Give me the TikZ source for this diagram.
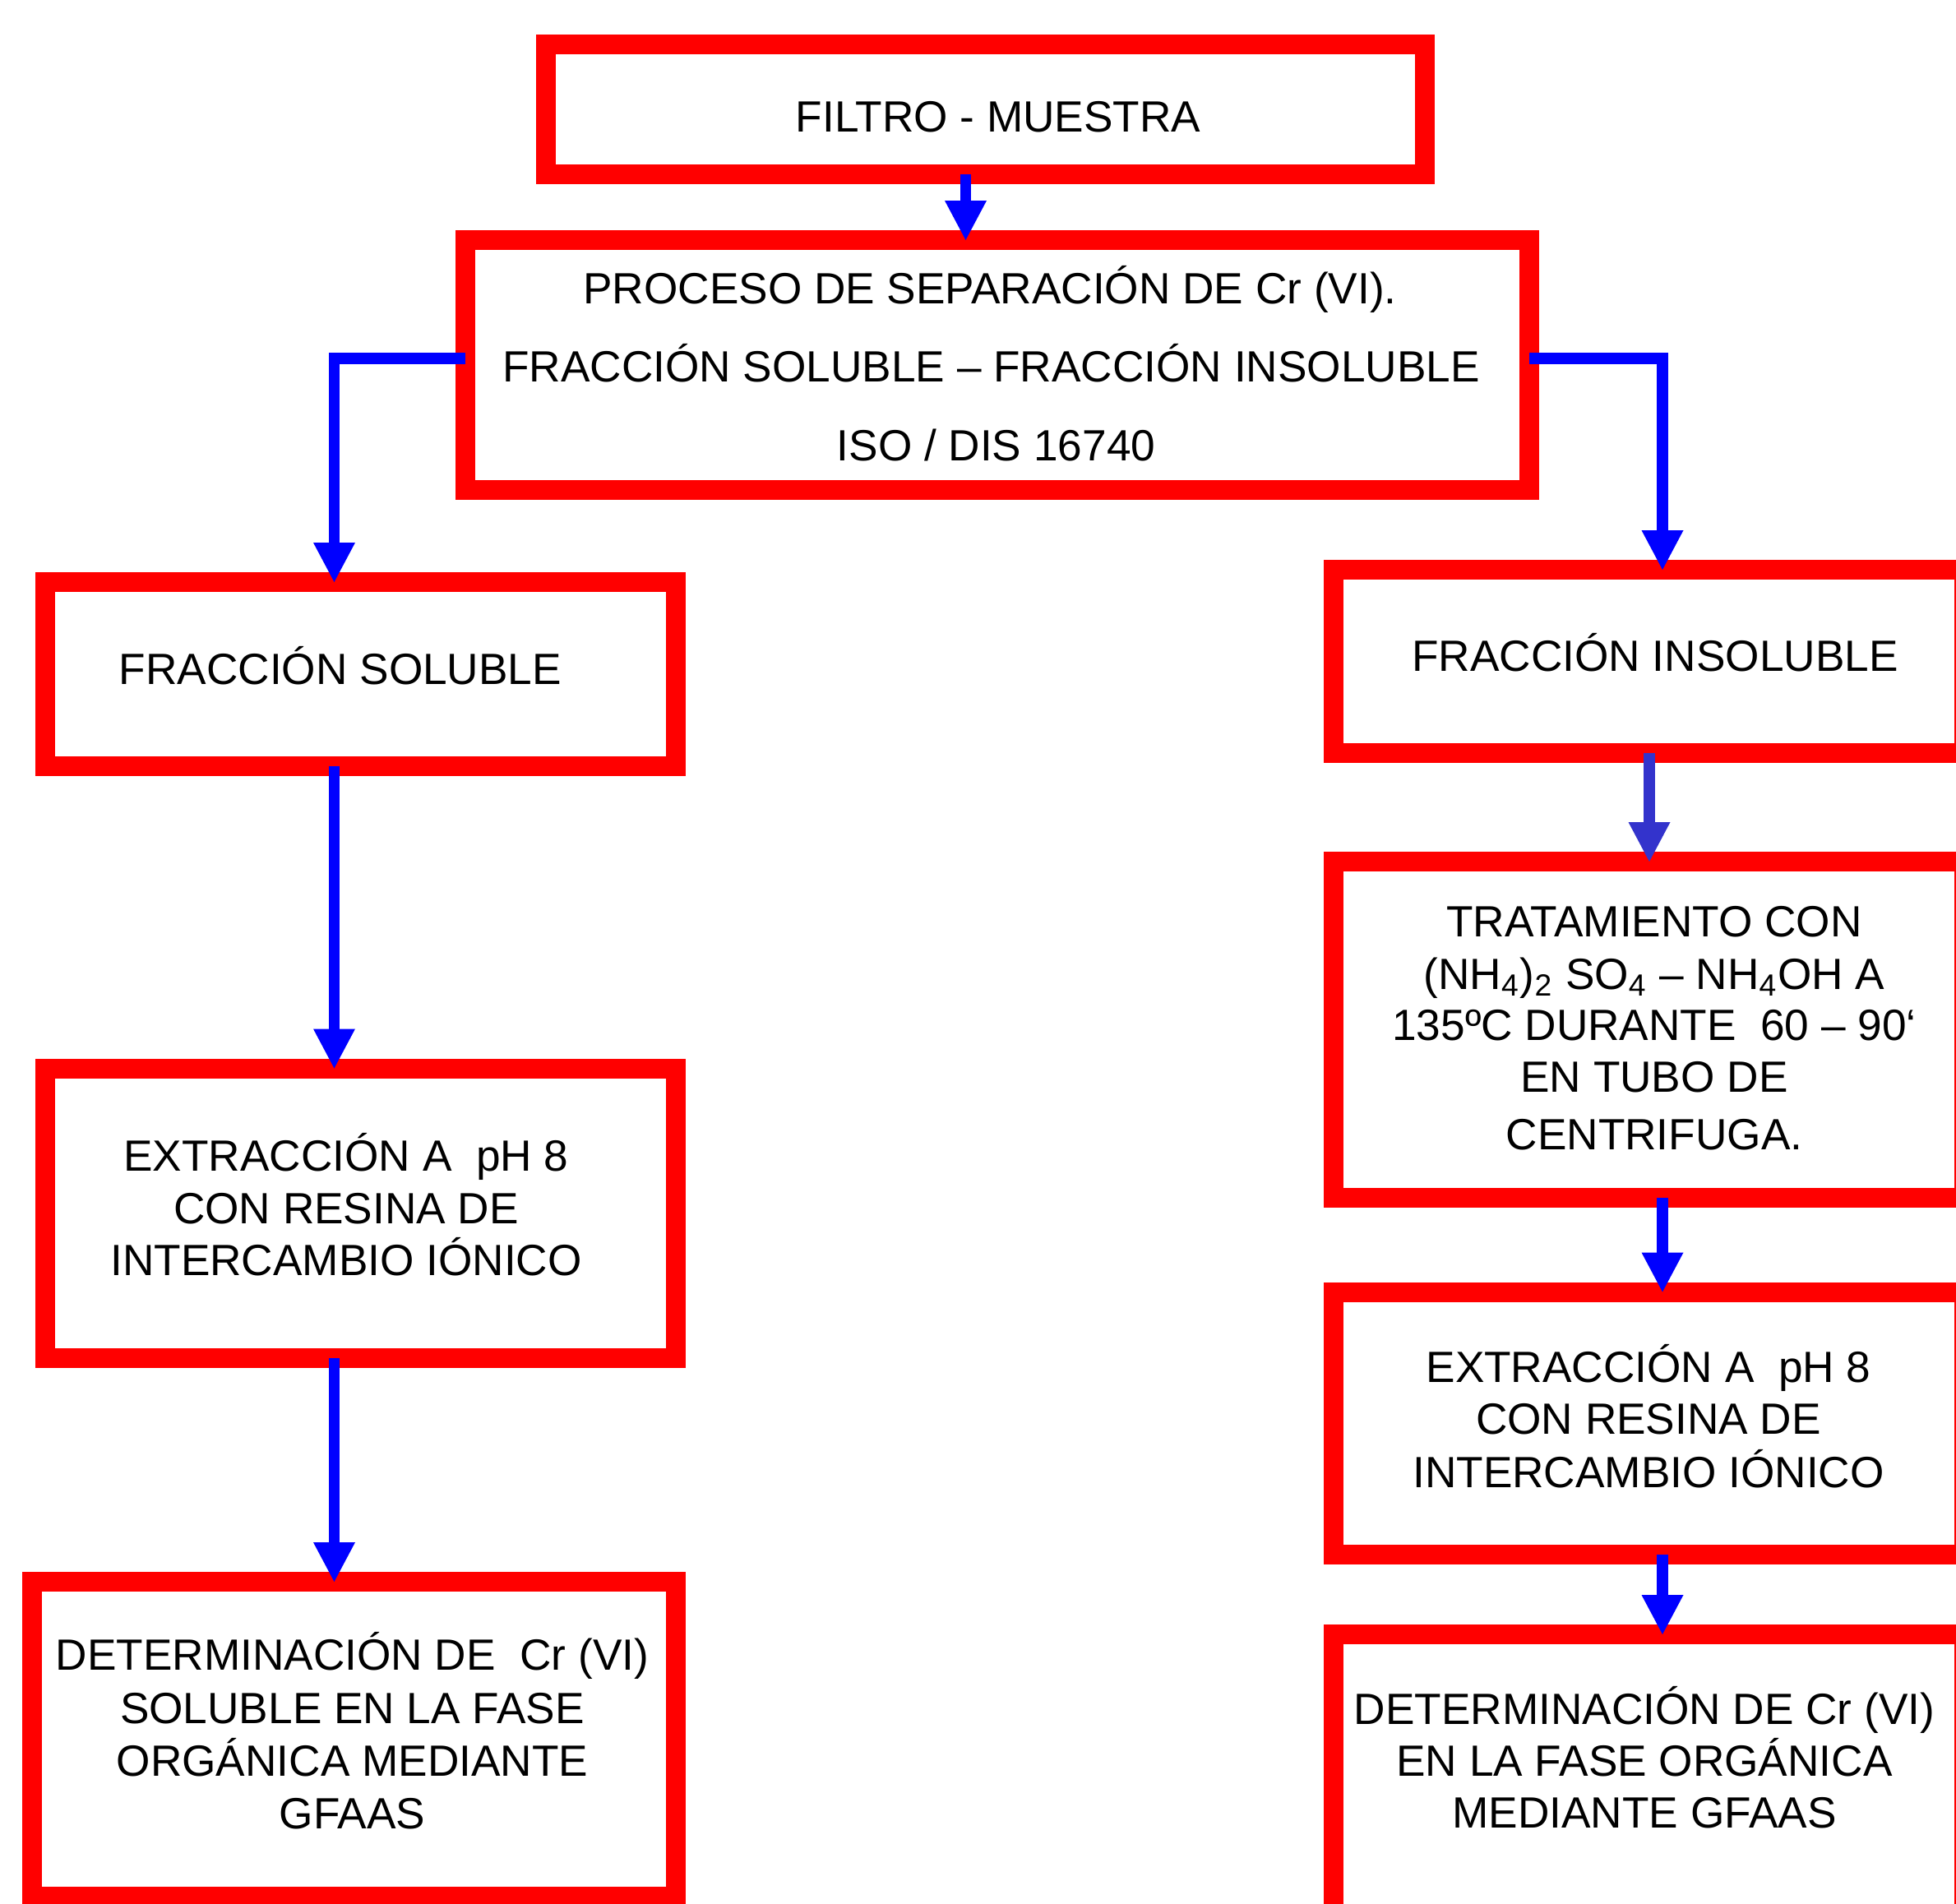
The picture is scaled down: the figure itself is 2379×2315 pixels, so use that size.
\documentclass[tikz,border=0pt]{standalone}
\usepackage{fontspec}
\setmainfont{Liberation Sans}
\usetikzlibrary{arrows.meta,fit}
\definecolor{boxred}{HTML}{FF0000}
\definecolor{arrblue}{HTML}{0000FF}
\definecolor{arrpurple}{HTML}{3333CC}
\tikzset{
  box/.style={draw=boxred, line width=6pt, rectangle, inner sep=0pt, outer sep=0pt, fill=none},
  txt/.style={anchor=base, inner sep=0pt, outer sep=0pt, font=\fontsize{13.3pt}{16pt}\selectfont, text=black},
  arr/.style={draw=arrblue, line width=3.3pt, -{Triangle[length=12pt,width=12.75pt,line width=0pt]}},
  conn/.style={arr, line width=3.4pt},
}
\begin{document}
\begin{tikzpicture}[x=0.25pt,y=-0.25pt]
\useasboundingbox (0,0) rectangle (2379,2315);
\fill[white] (0,0) rectangle (2379,2315);
\clip (0,0) rectangle (2379,2315);
% x positions of the connectors
\coordinate (a1x) at (1174.5,0);
\coordinate (xl) at (406.5,0);
\coordinate (xr) at (2022,0);
\coordinate (x45) at (2006,0);
\coordinate (yb) at (0,436);
% boxes
\node[box, fit={(664,54) (1733,212)}] (b1) {};
\node[box, fit={(566,292) (1860,595.5)}] (b2) {};
\node[box, fit={(55,708) (822,932)}] (b3) {};
\node[box, fit={(1622,693) (2389,916)}] (b4) {};
\node[box, fit={(1622,1048) (2389,1457)}] (b5) {};
\node[box, fit={(1622,1571.5) (2389,1891)}] (b6) {};
\node[box, fit={(1622,1988) (2389,2340)}] (b7) {};
\node[box, fit={(55,1299.5) (822,1652)}] (b8) {};
\node[box, fit={(39,1924) (822,2307)}] (b9) {};
% texts
\node[txt] (t1) at (1214,160) {FILTRO - MUESTRA};
\node[txt] (t2a) at (1204,369) {PROCESO DE SEPARACIÓN DE Cr (VI).};
\node[txt] (t2b) at (1205.5,464) {FRACCIÓN SOLUBLE – FRACCIÓN INSOLUBLE};
\node[txt] (t2c) at (1211.5,560) {ISO / DIS 16740};
\node[txt] (t3) at (414,832) {FRACCIÓN SOLUBLE};
\node[txt] (t4) at (2013,816) {FRACCIÓN INSOLUBLE};
\node[txt] (t5a) at (2012,1139) {TRATAMIENTO CON};
\node[txt] (t5b) at (2012,1203) {(NH\textsubscript{4})\textsubscript{2} SO\textsubscript{4} – NH\textsubscript{4}OH A};
\node[txt] (t5c) at (2012,1265) {135ºC DURANTE\ \ 60 – 90‘};
\node[txt] (t5d) at (2012,1328) {EN TUBO DE};
\node[txt] (t5e) at (2012,1398) {CENTRIFUGA.};
\node[txt] (t6a) at (2005,1681) {EXTRACCIÓN A\ \ pH 8};
\node[txt] (t6b) at (2005,1744) {CON RESINA DE};
\node[txt] (t6c) at (2005,1809) {INTERCAMBIO IÓNICO};
\node[txt] (t7a) at (2000,2097) {DETERMINACIÓN DE Cr (VI)};
\node[txt] (t7b) at (2000,2160) {EN LA FASE ORGÁNICA};
\node[txt] (t7c) at (2000,2223.5) {MEDIANTE GFAAS};
\node[txt] (t8a) at (421,1424) {EXTRACCIÓN A\ \ pH 8};
\node[txt] (t8b) at (421,1488) {CON RESINA DE};
\node[txt] (t8c) at (421,1551) {INTERCAMBIO IÓNICO};
\node[txt] (t9a) at (428.5,2031) {DETERMINACIÓN DE\ \ Cr (VI)};
\node[txt] (t9b) at (428.5,2096) {SOLUBLE EN LA FASE};
\node[txt] (t9c) at (428.5,2160) {ORGÁNICA MEDIANTE};
\node[txt] (t9d) at (428.5,2224) {GFAAS};
% connectors
\draw[arr] (b1.south -| a1x) -- (b2.north -| a1x);
\draw[conn] (b2.west |- yb) -| (b3.north -| xl);
\draw[conn] (b2.east |- yb) -| (b4.north -| xr);
\draw[arr] (b3.south -| xl) -- (b8.north -| xl);
\draw[arr] (b8.south -| xl) -- (b9.north -| xl);
\draw[arr, draw=arrpurple] (b4.south -| x45) -- (b5.north -| x45);
\draw[arr] (b5.south -| xr) -- (b6.north -| xr);
\draw[arr] (b6.south -| xr) -- (b7.north -| xr);
\end{tikzpicture}
\end{document}
